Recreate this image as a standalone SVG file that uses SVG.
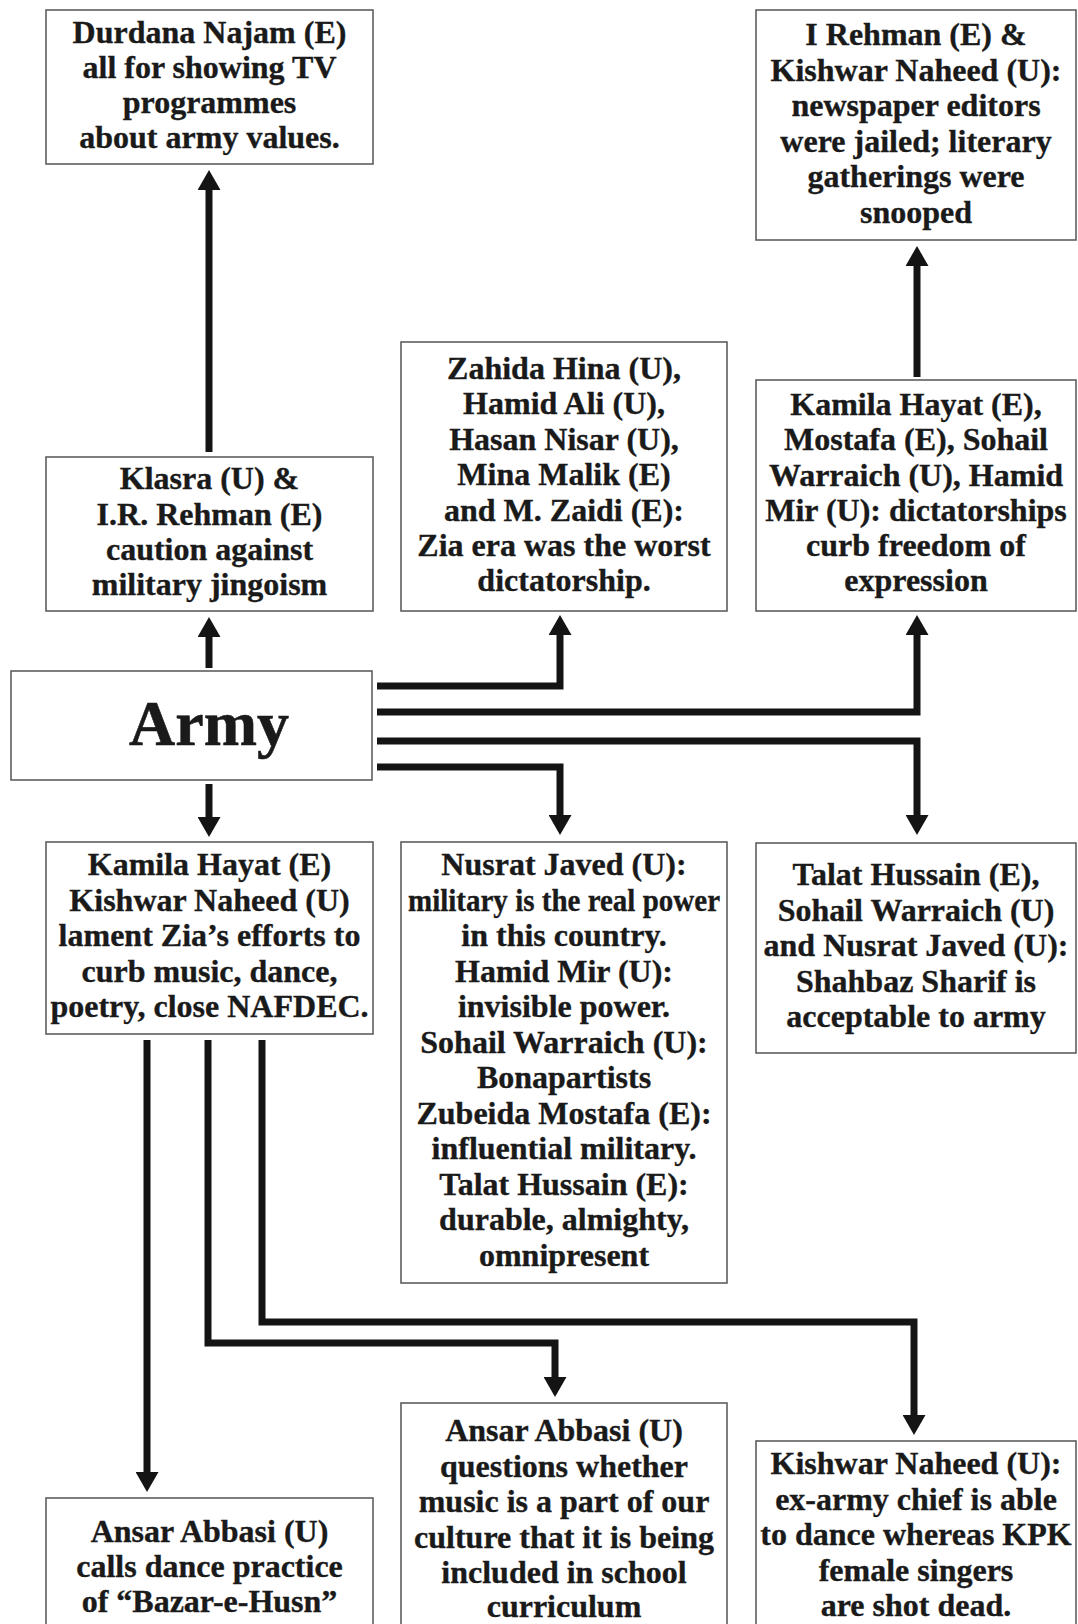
<svg xmlns="http://www.w3.org/2000/svg" width="1078" height="1624" viewBox="0 0 1078 1624">
<style>
.box{fill:#fff;stroke:#5e5e5e;stroke-width:1.6}
.t{font-family:"Liberation Serif","Times New Roman",serif;font-weight:bold;font-size:32px;fill:#1a1a1a;stroke:#1a1a1a;stroke-width:0.35;text-anchor:middle}
.big{font-size:64px;stroke-width:0.6}
.c{fill:none;stroke:#141414;stroke-width:7;stroke-linejoin:miter;stroke-linecap:butt;marker-end:url(#ah)}
</style>
<defs>
<marker id="ah" markerUnits="userSpaceOnUse" markerWidth="21" markerHeight="23" refX="1" refY="11.5" orient="auto" viewBox="0 0 21 23">
<path d="M0,0 L20,11.5 L0,23 Z" fill="#141414"/>
</marker>
</defs>
<rect width="1078" height="1624" fill="#fff"/>

<g id="connectors">
<path class="c" d="M209,452 V189"/>
<path class="c" d="M209,668 V636"/>
<path class="c" d="M209,784 V818"/>
<path class="c" d="M377,686 H560 V634"/>
<path class="c" d="M377,712 H917 V634"/>
<path class="c" d="M377,741 H917 V816"/>
<path class="c" d="M377,767 H560 V816"/>
<path class="c" d="M917,377 V265"/>
<path class="c" d="M147,1040 V1473"/>
<path class="c" d="M208,1040 V1343 H555 V1378"/>
<path class="c" d="M262,1040 V1322 H914 V1416"/>
</g>

<g id="n-durdana">
<rect class="box" x="46" y="10" width="327" height="154"/>
<text class="t"><tspan x="209.5" y="42.5">Durdana Najam (E)</tspan><tspan x="209.5" y="78">all for showing TV</tspan><tspan x="209.5" y="113">programmes</tspan><tspan x="209.5" y="148">about army values.</tspan></text>
</g>

<g id="n-irehman">
<rect class="box" x="756" y="10" width="320" height="230"/>
<text class="t"><tspan x="916" y="45">I Rehman (E) &amp;</tspan><tspan x="916" y="80.5">Kishwar Naheed (U):</tspan><tspan x="916" y="116">newspaper editors</tspan><tspan x="916" y="151.5">were jailed; literary</tspan><tspan x="916" y="187">gatherings were</tspan><tspan x="916" y="222.5">snooped</tspan></text>
</g>

<g id="n-zahida">
<rect class="box" x="401" y="342" width="326" height="269"/>
<text class="t"><tspan x="564" y="378.5">Zahida Hina (U),</tspan><tspan x="564" y="414">Hamid Ali (U),</tspan><tspan x="564" y="449.5">Hasan Nisar (U),</tspan><tspan x="564" y="485">Mina Malik (E)</tspan><tspan x="564" y="520.5">and M. Zaidi (E):</tspan><tspan x="564" y="556">Zia era was the worst</tspan><tspan x="564" y="591">dictatorship.</tspan></text>
</g>

<g id="n-kamila-mostafa">
<rect class="box" x="756" y="380" width="320" height="231"/>
<text class="t"><tspan x="916" y="414.5">Kamila Hayat (E),</tspan><tspan x="916" y="450">Mostafa (E), Sohail</tspan><tspan x="916" y="485.5">Warraich (U), Hamid</tspan><tspan x="916" y="521">Mir (U): dictatorships</tspan><tspan x="916" y="556">curb freedom of</tspan><tspan x="916" y="591">expression</tspan></text>
</g>

<g id="n-klasra">
<rect class="box" x="46" y="457" width="327" height="154"/>
<text class="t"><tspan x="209.5" y="489">Klasra (U) &amp;</tspan><tspan x="209.5" y="524.5">I.R. Rehman (E)</tspan><tspan x="209.5" y="560">caution against</tspan><tspan x="209.5" y="595">military jingoism</tspan></text>
</g>

<g id="n-army">
<rect class="box" x="11" y="671" width="361" height="109"/>
<text class="t big" x="209" y="745">Army</text>
</g>

<g id="n-kamila-kishwar">
<rect class="box" x="46" y="842" width="327" height="192"/>
<text class="t"><tspan x="209.5" y="875">Kamila Hayat (E)</tspan><tspan x="209.5" y="910.5">Kishwar Naheed (U)</tspan><tspan x="209.5" y="946">lament Zia’s efforts to</tspan><tspan x="209.5" y="981.5">curb music, dance,</tspan><tspan x="209.5" y="1017">poetry, close NAFDEC.</tspan></text>
</g>

<g id="n-nusrat">
<rect class="box" x="401" y="842" width="326" height="441"/>
<text class="t"><tspan x="564" y="875">Nusrat Javed (U):</tspan><tspan x="564" y="910.5" textLength="312" lengthAdjust="spacingAndGlyphs">military is the real power</tspan><tspan x="564" y="946">in this country.</tspan><tspan x="564" y="981.5">Hamid Mir (U):</tspan><tspan x="564" y="1017">invisible power.</tspan><tspan x="564" y="1052.5">Sohail Warraich (U):</tspan><tspan x="564" y="1088">Bonapartists</tspan><tspan x="564" y="1123.5">Zubeida Mostafa (E):</tspan><tspan x="564" y="1159">influential military.</tspan><tspan x="564" y="1194.5">Talat Hussain (E):</tspan><tspan x="564" y="1230">durable, almighty,</tspan><tspan x="564" y="1265.5">omnipresent</tspan></text>
</g>

<g id="n-talat">
<rect class="box" x="756" y="843" width="320" height="210"/>
<text class="t"><tspan x="916" y="885">Talat Hussain (E),</tspan><tspan x="916" y="920.5">Sohail Warraich (U)</tspan><tspan x="916" y="956">and Nusrat Javed (U):</tspan><tspan x="916" y="991.5">Shahbaz Sharif is</tspan><tspan x="916" y="1027">acceptable to army</tspan></text>
</g>

<g id="n-ansar-calls">
<rect class="box" x="46" y="1498" width="327" height="140"/>
<text class="t"><tspan x="209.5" y="1542">Ansar Abbasi (U)</tspan><tspan x="209.5" y="1577">calls dance practice</tspan><tspan x="209.5" y="1612">of “Bazar-e-Husn”</tspan></text>
</g>

<g id="n-ansar-questions">
<rect class="box" x="401" y="1403" width="326" height="235"/>
<text class="t"><tspan x="564" y="1441">Ansar Abbasi (U)</tspan><tspan x="564" y="1476.5">questions whether</tspan><tspan x="564" y="1512">music is a part of our</tspan><tspan x="564" y="1547.5">culture that it is being</tspan><tspan x="564" y="1583">included in school</tspan><tspan x="564" y="1617">curriculum</tspan></text>
</g>

<g id="n-kishwar">
<rect class="box" x="756" y="1441" width="320" height="197"/>
<text class="t"><tspan x="916" y="1474">Kishwar Naheed (U):</tspan><tspan x="916" y="1509.5">ex-army chief is able</tspan><tspan x="916" y="1545">to dance whereas KPK</tspan><tspan x="916" y="1580.5">female singers</tspan><tspan x="916" y="1616">are shot dead.</tspan></text>
</g>
</svg>
